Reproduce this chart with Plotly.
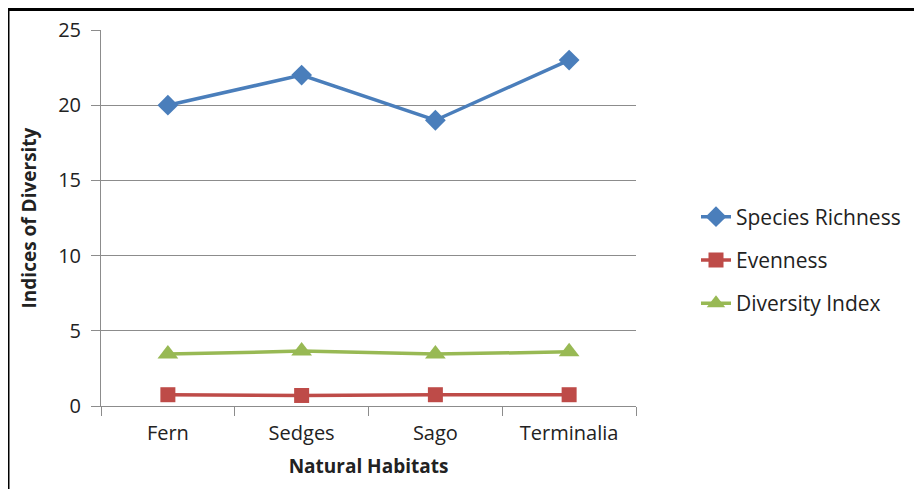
import plotly.graph_objects as go

habitats = ["Fern", "Sedges", "Sago", "Terminalia"]
species_richness = [20, 22, 19, 23]
evenness = [0.75, 0.7, 0.75, 0.75]
diversity_index = [3.45, 3.65, 3.45, 3.6]

# page body has an 8px margin, so figure coordinates are screen minus 8
W, H = 914, 481
L, R, T, B = 93, 628, 22, 398

fig = go.Figure()
series = [
    ("Species Richness", species_richness, "#4A7EBB", "diamond", 16),
    ("Evenness", evenness, "#BE4B48", "square", 15),
    ("Diversity Index", diversity_index, "#98B954", "triangle-up", 18),
]
for i, (name, vals, col, sym, sz) in enumerate(series):
    fig.add_trace(go.Scatter(
        x=habitats, y=vals, name=name, mode="lines+markers",
        line=dict(color=col, width=3.5),
        marker=dict(symbol=sym, size=sz, color=col),
        legendgroup=f"g{i}",
    ))

font = "'Open Sans', sans-serif"
fig.update_layout(
    width=W, height=H,
    margin=dict(l=L, r=W - R, t=T, b=H - B, autoexpand=False),
    paper_bgcolor="white", plot_bgcolor="white",
    font=dict(family=font, size=20, color="#222"),
    showlegend=True,
    legend=dict(x=(688 - L) / (R - L), xanchor="left",
                y=(B - 252) / (B - T), yanchor="middle",
                font=dict(size=21, color="#222"), tracegroupgap=13,
                bgcolor="rgba(0,0,0,0)"),
    xaxis=dict(
        range=[-0.5, 3.5],
        showgrid=False, showline=True, linecolor="#8c8c8c", linewidth=1,
        ticks="outside", tickson="boundaries", ticklen=9, tickcolor="#8c8c8c",
        tickfont=dict(size=20), ticklabelstandoff=9,
        title=dict(text="<b>Natural Habitats</b>", font=dict(size=19), standoff=14),
    ),
    yaxis=dict(
        range=[0, 25], dtick=5, showgrid=True, gridcolor="#8c8c8c", gridwidth=1,
        showline=True, linecolor="#8c8c8c", ticks="outside", ticklen=9,
        tickcolor="#8c8c8c", tickfont=dict(size=20), zeroline=False,
        ticklabelstandoff=6,
        title=dict(text="<b>Indices of Diversity</b>", font=dict(size=19), standoff=16),
    ),
)

# frame: top and left edges visible in the reference
px = lambda v: (v - L) / (R - L)
py = lambda v: (B - v) / (B - T)
fig.add_shape(type="line", xref="paper", yref="paper",
              x0=px(0), x1=px(W), y0=py(1.5), y1=py(1.5),
              line=dict(color="black", width=3))
fig.add_shape(type="line", xref="paper", yref="paper",
              x0=px(0.5), x1=px(0.5), y0=py(1.5), y1=py(H),
              line=dict(color="black", width=2))

fig.write_html("out.html")
